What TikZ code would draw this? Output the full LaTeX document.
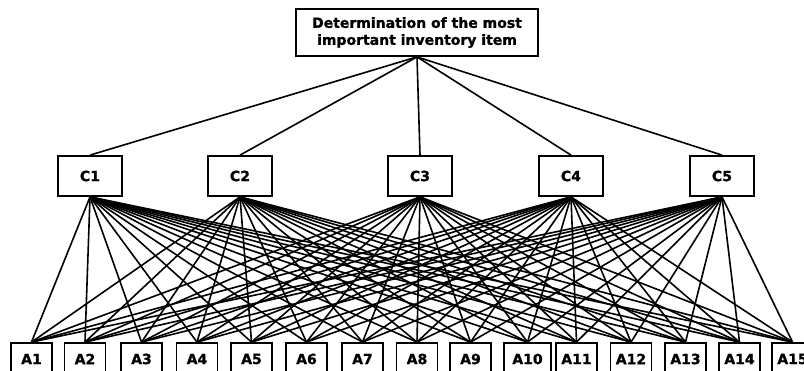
\documentclass[tikz,border=0pt]{standalone}
\usepackage{fontspec}
\setmainfont{DejaVu Sans}[BoldFont={DejaVu Sans Bold}]
\newfontfamily\heavyfont{DejaVu Sans Bold}[FakeBold=1.2]
\begin{document}
\begin{tikzpicture}[x=1pt,y=-1pt,
  box/.style={draw, line width=1.8pt, fill=white, font=\heavyfont\fontsize{14}{17}\selectfont, inner sep=0pt, align=center},
  cbox/.style={box, minimum width=64pt, minimum height=40pt},
  abox/.style={box, minimum width=41pt, minimum height=32pt},
  link/.style={line width=1.6pt}]
\useasboundingbox (0,0) rectangle (804,370);
\clip (0,0) rectangle (804,370);
\node[box, minimum width=242pt, minimum height=47pt] (G) at (417,32.5) {Determination of the most\\important inventory item};
\foreach \i/\x in {1/90,2/240,3/420,4/571,5/722}{
  \node[cbox] (C\i) at (\x,176) {C\i};
}
\foreach \i/\x in {1/31.5,2/85,3/141.5,4/197,5/251.5,6/306.5,7/362.5,8/417,9/470.5,11/576.5,12/631,13/685.5,14/739.5,15/792.5}{
  \node[abox] (A\i) at (\x,359) {A\i};
}
\node[abox, minimum width=47pt] (A10) at (527.5,359) {A10};
\foreach \i in {1,...,5}{
  \draw[link] (G.south) -- (C\i.north);
  \foreach \j in {1,...,15}{
    \draw[link] (C\i.south) -- (A\j.north);
  }
}
\end{tikzpicture}
\end{document}
